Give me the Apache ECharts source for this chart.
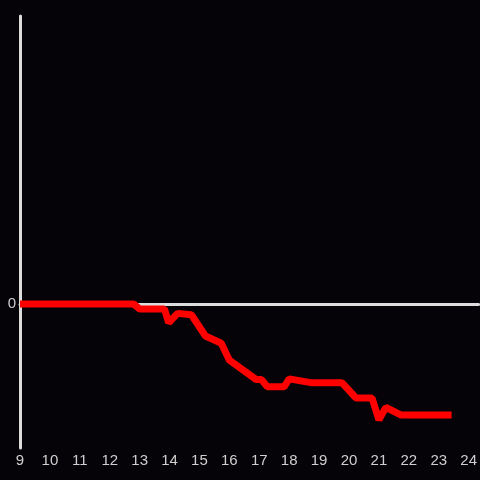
<!DOCTYPE html>
<html>
<head>
<meta charset="utf-8">
<script src="https://cdn.jsdelivr.net/npm/echarts@6/dist/echarts.min.js"></script>
<style>
  html, body { margin: 0; padding: 0; background: #050307; }
  #chart { width: 480px; height: 480px; }
</style>
</head>
<body>
<div id="chart"></div>
<script>
// hour of day
const hours = [9, 12.8, 13.0, 13.83, 13.97, 14.27, 14.73, 15.2, 15.73, 16.0, 16.67, 16.9, 17.07, 17.27, 17.83, 18.0, 18.77, 19.77, 20.23, 20.77, 21.0, 21.23, 21.73, 23.43];
const values = [0, 0, -0.14, -0.14, -0.52, -0.26, -0.3, -0.89, -1.09, -1.56, -1.96, -2.1, -2.1, -2.3, -2.3, -2.08, -2.19, -2.19, -2.61, -2.61, -3.22, -2.87, -3.08, -3.08];

const axisColor = '#dcdcdc';
const labelColor = '#cfcfcf';

const chart = echarts.init(document.getElementById('chart'));
chart.setOption({
  backgroundColor: '#050307',
  animation: false,
  grid: { left: 20, right: 0, top: 16, bottom: 32 },
  xAxis: [
    {
      // axis line sitting on zero
      type: 'value', min: 9, max: 24.33, interval: 1,
      axisLine: { onZero: true, lineStyle: { color: axisColor, width: 3 } },
      axisTick: { show: false }, axisLabel: { show: false }, splitLine: { show: false }
    },
    {
      // labels along the bottom
      type: 'value', min: 9, max: 24.33, interval: 1, position: 'bottom',
      axisLine: { show: false }, axisTick: { show: false }, splitLine: { show: false },
      axisLabel: { color: labelColor, fontSize: 15, margin: 5, fontFamily: 'Liberation Sans' }
    }
  ],
  yAxis: {
    type: 'value', min: -4, max: 8, interval: 4,
    axisLine: { show: true, lineStyle: { color: axisColor, width: 3 } },
    axisTick: { show: false }, splitLine: { show: false },
    axisLabel: { color: labelColor, fontSize: 15, margin: 4, fontFamily: 'Liberation Sans',
      padding: [2, 0, 0, 0],
      formatter: (v) => (v === 0 ? '0' : '') }
  },
  series: [{
    type: 'line',
    xAxisIndex: 1,
    data: hours.map((h, i) => [h, values[i]]),
    showSymbol: false,
    lineStyle: { color: '#ff0000', width: 7 },
    itemStyle: { color: '#ff0000' }
  }]
});
</script>
</body>
</html>
